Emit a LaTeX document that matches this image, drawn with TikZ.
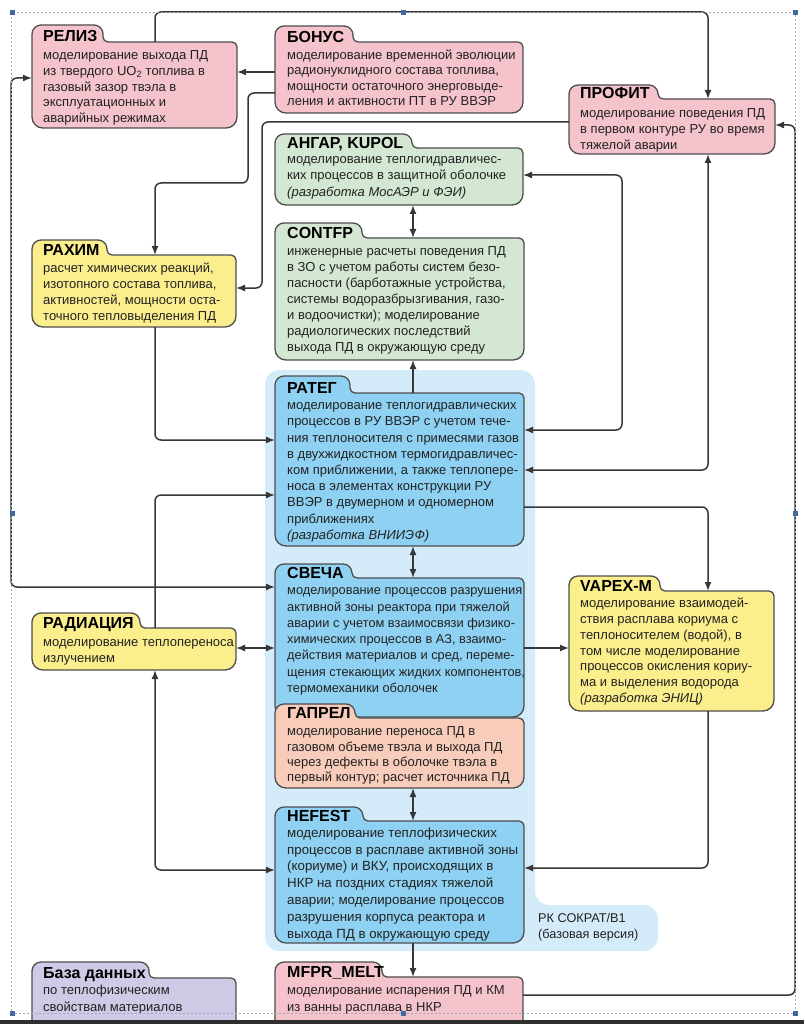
\documentclass[tikz,border=0pt]{standalone}
\usepackage{fontspec}
\setmainfont{Liberation Sans}
\usetikzlibrary{arrows.meta}
\definecolor{pinkf}{HTML}{F4C3CC}
\definecolor{greenf}{HTML}{D4E7D2}
\definecolor{yellowf}{HTML}{FBEE8C}
\definecolor{bluef}{HTML}{8FD1F2}
\definecolor{peachf}{HTML}{F8CCBA}
\definecolor{lavf}{HTML}{CFCAE6}
\definecolor{groupf}{HTML}{D4ECFA}
\definecolor{edgec}{HTML}{4E4E4E}
\definecolor{wirec}{HTML}{373737}
\definecolor{framec}{HTML}{98A9C3}
\definecolor{handlec}{HTML}{4069A3}
\definecolor{txtc}{HTML}{222222}
\tikzset{
  boxline/.style={draw=edgec, line width=1.3pt},
  conn/.style={draw=wirec, line width=1.5pt, rounded corners=6pt},
  tip/.style={-{Latex[length=9pt,width=7pt]}},
  tiptwo/.style={{Latex[length=9pt,width=7pt]}-{Latex[length=9pt,width=7pt]}},
  titletext/.style={anchor=base west, inner sep=0pt, text=black, font=\bfseries\fontsize{16}{16}\selectfont},
  bodytext/.style={anchor=north west, inner sep=0pt, align=left, text=txtc},
}
% #1 name, #2 L, #3 tab top, #4 tab right, #5 body top, #6 R, #7 bottom, #8 fill
\newcommand{\folderbox}[8]{%
  \draw[boxline, fill=#8] (#2,{(#5+#7)/2}) [rounded corners=9pt] -- (#2,#3) -- (#4,#3)
     [rounded corners=5pt] -- (#4,#5) -- (#6,#5) [rounded corners=11pt] -- (#6,#7) -- (#2,#7) -- cycle;
  \node[inner sep=0pt, outer sep=0pt, minimum width={(#6-#2)*1pt}, minimum height={(#7-#5)*1pt}, anchor=north west] (#1) at (#2,#5) {};
}
\newcommand{\foldertitle}[4]{\node[titletext] (#1) at (#2,#3) {#4};}
% #1 name, #2 x, #3 first baseline, #4 baselineskip, #5 size, #6 text
\newcommand{\foldertext}[6]{\node[bodytext, font=\fontsize{#5}{#4}\selectfont] (#1) at (#2,{#3-0.7*#4}) {\strut #6};}

\begin{document}
\begin{tikzpicture}[x=1pt,y=-1pt]
\useasboundingbox (0,0) rectangle (804,1024);
\clip (0,0) rectangle (804,1024);
\fill[white] (0,0) rectangle (804,1024);

% group background
\fill[groupf, rounded corners=14pt] (265,370) -- (535,370) -- (535,905) -- (658,905) -- (658,951) -- (265,951) -- cycle;
\foldertext{sokrat}{538}{922}{16.5}{12.7}{РК СОКРАТ/В1\\(базовая версия)}

% boxes
\folderbox{relis}{32}{25}{103}{42}{237}{128}{pinkf}
\foldertitle{relis-t}{43}{41.5}{РЕЛИЗ}
\foldertext{relis-x}{43}{59.5}{15.7}{13}{моделирование выхода ПД\\из твердого UO\textsubscript{2} топлива в\\газовый зазор твэла в\\эксплуатационных и\\аварийных режимах}

\folderbox{bonus}{275}{26}{353}{42}{523}{113}{pinkf}
\foldertitle{bonus-t}{287}{42.5}{БОНУС}
\foldertext{bonus-x}{287}{59.5}{15.3}{13}{моделирование временной эволюции\\радионуклидного состава топлива,\\мощности остаточного энерговыде-\\ления и активности ПТ в РУ ВВЭР}

\folderbox{profit}{569}{85}{658}{99}{775}{154}{pinkf}
\foldertitle{profit-t}{580}{99}{ПРОФИТ}
\foldertext{profit-x}{580}{117.5}{16}{13}{моделирование поведения ПД\\в первом контуре РУ во время\\тяжелой аварии}

\folderbox{angar}{275}{134}{412}{148}{523}{205}{greenf}
\foldertitle{angar-t}{287}{148.5}{АНГАР, KUPOL}
\foldertext{angar-x}{287}{163.5}{16.3}{13}{моделирование теплогидравличес-\\ких процессов в защитной оболочке\\\textit{(разработка МосАЭР и ФЭИ)}}

\folderbox{contfp}{275}{223}{362}{238}{524}{360}{greenf}
\foldertitle{contfp-t}{287}{238.5}{CONTFP}
\foldertext{contfp-x}{287}{255.5}{16}{13}{инженерные расчеты поведения ПД\\в ЗО с учетом работы систем безо-\\пасности (барботажные устройства,\\системы водоразбрызгивания, газо-\\и водоочистки); моделирование\\радиологических последствий\\выхода ПД в окружающую среду}

\folderbox{rahim}{32}{240}{107}{255}{236}{327}{yellowf}
\foldertitle{rahim-t}{43}{255.5}{РАХИМ}
\foldertext{rahim-x}{43}{272.5}{15.8}{13}{расчет химических реакций,\\изотопного состава топлива,\\активностей, мощности оста-\\точного тепловыделения ПД}

\folderbox{rateg}{275}{376}{350}{393}{524}{546}{bluef}
\foldertitle{rateg-t}{287}{393.5}{РАТЕГ}
\foldertext{rateg-x}{287}{409.5}{16.2}{13}{моделирование теплогидравлических\\процессов в РУ ВВЭР с учетом тече-\\ния теплоносителя с примесями газов\\в двухжидкостном термогидравличес-\\ком приближении, а также теплопере-\\носа в элементах конструкции РУ\\ВВЭР в двумерном и одномерном\\приближениях\\\textit{(разработка ВНИИЭФ)}}

\folderbox{svecha}{275}{564}{352}{578}{524}{717}{bluef}
\foldertitle{svecha-t}{287}{578.5}{СВЕЧА}
\foldertext{svecha-x}{287}{594.5}{16.3}{12.8}{моделирование процессов разрушения\\активной зоны реактора при тяжелой\\аварии с учетом взаимосвязи физико-\\химических процессов в АЗ, взаимо-\\действия материалов и сред, переме-\\щения стекающих жидких компонентов,\\термомеханики оболочек}

\folderbox{gaprel}{275}{704}{355}{718}{524}{788}{peachf}
\foldertitle{gaprel-t}{287}{718.5}{ГАПРЕЛ}
\foldertext{gaprel-x}{287}{735.5}{15.3}{13}{моделирование переноса ПД в\\газовом объеме твэла и выхода ПД\\через дефекты в оболочке твэла в\\первый контур; расчет источника ПД}

\folderbox{hefest}{275}{807}{363}{821}{524}{943}{bluef}
\foldertitle{hefest-t}{287}{821}{HEFEST}
\foldertext{hefest-x}{287}{837}{16.8}{13.3}{моделирование теплофизических\\процессов в расплаве активной зоны\\(кориуме) и ВКУ, происходящих в\\НКР на поздних стадиях тяжелой\\аварии; моделирование процессов\\разрушения корпуса реактора и\\выхода ПД в окружающую среду}

\folderbox{radia}{32}{613}{140}{628}{236}{670}{yellowf}
\foldertitle{radia-t}{43}{628.5}{РАДИАЦИЯ}
\foldertext{radia-x}{43}{646.5}{15.7}{13}{моделирование теплопереноса\\излучением}

\folderbox{vapex}{569}{576}{660}{591}{774}{711}{yellowf}
\foldertitle{vapex-t}{580}{591}{VAPEX-M}
\foldertext{vapex-x}{580}{607.5}{15.8}{13}{моделирование взаимодей-\\ствия расплава кориума с\\теплоносителем (водой), в\\том числе моделирование\\процессов окисления кориу-\\ма и выделения водорода\\\textit{(разработка ЭНИЦ)}}

\folderbox{mfpr}{275}{962}{382}{977}{523}{1045}{pinkf}
\foldertitle{mfpr-t}{287}{977.5}{MFPR\_MELT}
\foldertext{mfpr-x}{287}{994.5}{17}{13}{моделирование испарения ПД и КМ\\из ванны расплава в НКР}

\folderbox{bazad}{32}{962}{149}{978}{236}{1045}{lavf}
\foldertitle{bazad-t}{43}{978.5}{База данных}
\foldertext{bazad-x}{43}{994.5}{17}{13}{по теплофизическим\\свойствам материалов}

% connectors
\draw[conn, tip] (155,0 |- relis.north) -- (155,12) -- (708,12) -- (708,0 |- profit.north);
\draw[conn, tip] (bonus.west |- 0,72) -- (relis.east |- 0,72);
\draw[conn, tip] (bonus.west |- 0,93) -- (248,93) -- (248,183) -- (155,183) -- (155,0 |- rahim.north);
\draw[conn, tip] (profit.west |- 0,122) -- (262,122) -- (262,288) -- (rahim.east |- 0,288);
\draw[conn, tiptwo] (413,0 |- angar.south) -- (413,0 |- contfp.north);
\draw[conn, tip] (413,0 |- rateg.north) -- (413,0 |- contfp.south);
\draw[conn, tiptwo] (angar.east |- 0,175) -- (622,175) -- (622,430) -- (rateg.east |- 0,430);
\draw[conn, tiptwo] (708,0 |- profit.south) -- (708,470) -- (rateg.east |- 0,470);
\draw[conn, tip] (mfpr.east |- 0,995) -- (795,995) -- (795,125) -- (profit.east |- 0,125);
\draw[conn, tip] (rateg.east |- 0,507) -- (708,507) -- (708,0 |- vapex.north);
\draw[conn, tip] (svecha.east |- 0,648) -- (vapex.west |- 0,648);
\draw[conn, tip] (708,0 |- vapex.south) -- (708,868) -- (hefest.east |- 0,868);
\draw[conn, tip] (413,0 |- hefest.south) -- (413,0 |- mfpr.north);
\draw[conn, tiptwo] (413,0 |- gaprel.south) -- (413,0 |- hefest.north);
\draw[conn, tiptwo] (413,0 |- rateg.south) -- (413,0 |- svecha.north);
\draw[conn, tip] (155,0 |- rahim.south) -- (155,440) -- (rateg.west |- 0,440);
\draw[conn, tiptwo] (relis.west |- 0,78) -- (11,78) -- (11,587) -- (svecha.west |- 0,587);
\draw[conn, tip] (155,0 |- radia.north) -- (155,495) -- (rateg.west |- 0,495);
\draw[conn, tiptwo] (radia.east |- 0,648) -- (svecha.west |- 0,648);
\draw[conn, tiptwo] (155,0 |- radia.south) -- (155,870) -- (hefest.west |- 0,870);

% selection frame and handles
\draw[framec, line width=1pt, dash pattern=on 2pt off 2pt] (11,13) rectangle (795,1013);
\foreach \hx/\hy in {12/13,403/13,795/13,12/513,795/513,12/1013,403/1013,795/1013}
  \fill[handlec] (\hx-2.5,\hy-2.5) rectangle (\hx+2.5,\hy+2.5);
\fill[black!82] (0,1020) rectangle (804,1024);
\end{tikzpicture}
\end{document}
